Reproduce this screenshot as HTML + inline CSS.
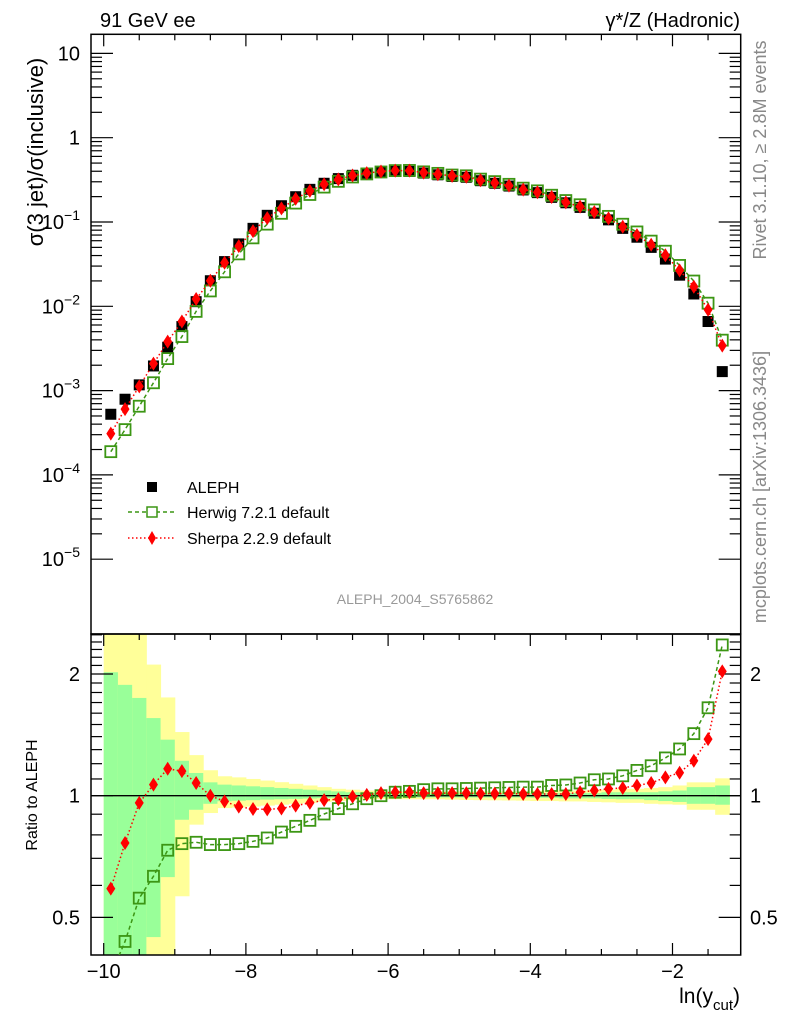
<!DOCTYPE html>
<html><head><meta charset="utf-8"><style>
html,body{margin:0;padding:0;background:#fff;}
svg{display:block;font-family:"Liberation Sans",sans-serif;}
</style></head><body>
<svg id="chart" width="786" height="1024" viewBox="0 0 786 1024" xmlns="http://www.w3.org/2000/svg">
<defs>
<clipPath id="clipMain"><rect x="91" y="34.3" width="649.7" height="599.7"/></clipPath>
<clipPath id="clipRatio"><rect x="91" y="634" width="649.7" height="321"/></clipPath>
</defs>
<g id="bands" clip-path="url(#clipRatio)"></g>
<g id="axes"></g>
<g id="marks"></g>
<text x="100" y="27" font-size="20">91 GeV ee</text>
<text x="740" y="27" font-size="20" text-anchor="end">γ*/Z (Hadronic)</text>
<text transform="translate(43,152) rotate(-90)" font-size="22" text-anchor="middle">σ(3 jet)/σ(inclusive)</text>
<text transform="translate(37,795) rotate(-90)" font-size="16" text-anchor="middle">Ratio to ALEPH</text>
<text transform="translate(766,150) rotate(-90)" font-size="18" fill="#888" text-anchor="middle">Rivet 3.1.10, ≥ 2.8M events</text>
<text transform="translate(766,487) rotate(-90)" font-size="18" fill="#888" text-anchor="middle">mcplots.cern.ch [arXiv:1306.3436]</text>
<text x="415" y="604" font-size="14" fill="#999" text-anchor="middle">ALEPH_2004_S5765862</text>
<text x="740" y="1003" font-size="21" text-anchor="end">ln(y<tspan font-size="15" dy="7">cut</tspan><tspan dy="-7">)</tspan></text>
<g>
 <rect x="147" y="482" width="10" height="10" fill="#000"/>
 <text x="187" y="493" font-size="16">ALEPH</text>
 <line x1="128" y1="512" x2="176" y2="512" stroke="#3c9614" stroke-width="1.5" stroke-dasharray="4,3"/>
 <rect x="147" y="507" width="10" height="10" fill="#fff" stroke="#3c9614" stroke-width="1.5"/>
 <text x="187" y="518" font-size="16">Herwig 7.2.1 default</text>
 <line x1="128" y1="538" x2="176" y2="538" stroke="#f00" stroke-width="1.5" stroke-dasharray="1.5,2.5"/>
 <polygon points="152,531 156,538 152,545 148,538" fill="#f00"/>
 <text x="187" y="544" font-size="16">Sherpa 2.2.9 default</text>
</g>
</svg>
<script>
const xCenters = [-9.9,-9.7,-9.5,-9.3,-9.1,-8.9,-8.7,-8.5,-8.3,-8.1,-7.9,-7.7,-7.5,-7.3,-7.1,-6.9,-6.7,-6.5,-6.3,-6.1,-5.9,-5.7,-5.5,-5.3,-5.1,-4.9,-4.7,-4.5,-4.3,-4.1,-3.9,-3.7,-3.5,-3.3,-3.1,-2.9,-2.7,-2.5,-2.3,-2.1,-1.9,-1.7,-1.5,-1.3];
const aleph = [5.24e-4,7.9e-4,1.17e-3,1.96e-3,3.27e-3,5.75e-3,0.01135,0.0201,0.0339,0.055,0.0841,0.120,0.156,0.1995,0.244,0.288,0.327,0.358,0.378,0.392,0.399,0.399,0.38,0.363,0.347,0.339,0.309,0.288,0.267,0.24,0.223,0.196,0.169,0.149,0.127,0.106,0.084,0.066,0.050,0.0363,0.0234,0.014,0.0066,0.00168];
const herwigRatio = [0.36,0.436,0.558,0.632,0.733,0.761,0.767,0.757,0.757,0.761,0.771,0.786,0.813,0.84,0.869,0.901,0.929,0.955,0.983,1.0,1.02,1.025,1.035,1.04,1.04,1.042,1.044,1.046,1.048,1.05,1.05,1.06,1.063,1.075,1.095,1.10,1.12,1.155,1.186,1.24,1.305,1.424,1.65,2.36];
const sherpaRatio = [0.589,0.764,0.96,1.065,1.166,1.15,1.075,1.0,0.968,0.94,0.927,0.925,0.93,0.945,0.96,0.975,0.98,0.995,1.005,1.015,1.02,1.02,1.015,1.015,1.015,1.015,1.012,1.012,1.012,1.01,1.01,1.01,1.01,1.02,1.03,1.04,1.045,1.06,1.075,1.11,1.14,1.22,1.38,2.03];
const greenHi = [2.02,1.88,1.745,1.556,1.376,1.22,1.138,1.079,1.065,1.06,1.055,1.05,1.045,1.04,1.035,1.03,1.025,1.02,1.018,1.015,1.012,1.012,1.012,1.012,1.012,1.012,1.012,1.012,1.012,1.012,1.015,1.015,1.015,1.015,1.015,1.02,1.02,1.02,1.02,1.025,1.03,1.05,1.05,1.06];
const greenLo = [0.3,0.3,0.3,0.447,0.629,0.872,0.923,0.955,0.969,0.972,0.975,0.978,0.98,0.982,0.984,0.986,0.988,0.99,0.99,0.99,0.99,0.99,0.99,0.99,0.99,0.99,0.99,0.99,0.99,0.99,0.988,0.988,0.985,0.985,0.985,0.982,0.98,0.98,0.975,0.97,0.965,0.955,0.955,0.95];
const yellowHi = [3,3,3,2.11,1.75,1.437,1.26,1.156,1.117,1.11,1.1,1.09,1.08,1.07,1.06,1.05,1.04,1.035,1.03,1.025,1.025,1.025,1.025,1.025,1.025,1.025,1.025,1.025,1.025,1.025,1.03,1.03,1.03,1.03,1.035,1.035,1.04,1.04,1.045,1.05,1.06,1.079,1.079,1.104];
const yellowLo = [0.3,0.3,0.3,0.3,0.3,0.564,0.848,0.906,0.932,0.935,0.94,0.945,0.95,0.955,0.96,0.965,0.97,0.975,0.978,0.98,0.98,0.98,0.98,0.98,0.978,0.976,0.975,0.974,0.973,0.972,0.97,0.97,0.968,0.968,0.965,0.963,0.96,0.96,0.955,0.952,0.95,0.923,0.923,0.897];
const xTickLabels = [-10,-8,-6,-4,-2];
const mainDecades = [-5,-4,-3,-2,-1,0,1];
const ratioLabels = [0.5,1,2];

const NS = "http://www.w3.org/2000/svg";
const L=91,R=740.7,T=34.3,MB=634,B=955;
const X = v => 103.7 + (v + 10) * 71.1;
const Ym = v => 222 - (Math.log10(v) + 1) * 84.3;
const Yr = v => 795.7 - Math.log10(v) * 404.3;
function mk(parent, tag, attrs){const e=document.createElementNS(NS,tag);for(const k in attrs)e.setAttribute(k,attrs[k]);parent.appendChild(e);return e;}
const axes=document.getElementById('axes'), bands=document.getElementById('bands'), marks=document.getElementById('marks');

xCenters.forEach((c,i)=>{
  const x0=X(c-0.1), x1=X(c+0.1);
  let r=mk(bands,'rect',{x:x0,y:Yr(yellowHi[i]),width:x1-x0+0.5,height:Yr(yellowLo[i])-Yr(yellowHi[i]),fill:'#ffff99'});
  
  
  r=mk(bands,'rect',{x:x0,y:Yr(greenHi[i]),width:x1-x0+0.5,height:Yr(greenLo[i])-Yr(greenHi[i]),fill:'#99ff99'});
  
  
});

let f=mk(axes,'rect',{x:L,y:T,width:R-L,height:MB-T,fill:'none',stroke:'#000','stroke-width':1.5});


f=mk(axes,'rect',{x:L,y:MB,width:R-L,height:B-MB,fill:'none',stroke:'#000','stroke-width':1.5});


let ref=mk(axes,'line',{x1:L,x2:R,y1:Yr(1),y2:Yr(1),stroke:'#000','stroke-width':1.3});



for(let v=-10;v<=-1.05;v+=0.5){
  const major=Math.abs(v-Math.round(v/2)*2)<1e-6;
  const len=major?12:6, x=X(v);
  [[T,T+len],[MB,MB+len],[B,B-len]].forEach(p=>mk(axes,'line',{x1:x,x2:x,y1:p[0],y2:p[1],stroke:'#000','stroke-width':1.2}));
}
xTickLabels.forEach(v=>{
  const t=mk(axes,'text',{x:X(v),y:978,'font-size':20,'text-anchor':'middle'});
  t.textContent=(v<0?'\u2212':'')+Math.abs(v);
  
  
});
mainDecades.forEach(d=>{
  for(let m=1;m<=9;m++){
    const y=Ym(m*Math.pow(10,d));
    if(y<T||y>MB)continue;
    const len=m===1?22:11;
    mk(axes,'line',{x1:L,x2:L+len,y1:y,y2:y,stroke:'#000','stroke-width':1.2});
    mk(axes,'line',{x1:R,x2:R-len,y1:y,y2:y,stroke:'#000','stroke-width':1.2});
  }
  const y=Ym(Math.pow(10,d));
  const t=mk(axes,'text',{x:80,y:y+7,'font-size':20,'text-anchor':'end'});
  if(d===0)t.textContent='1'; else if(d===1)t.textContent='10';
  else{t.textContent='10';const s=mk(t,'tspan',{dy:-9,'font-size':14});s.textContent='\u2212'+Math.abs(d);}
  
  
});
[0.5,0.6,0.7,0.8,0.9,1,1.1,1.2,1.3,1.4,1.5,1.6,1.7,1.8,1.9,2,2.1,2.2,2.3,2.4,2.5].forEach(v=>{
  const y=Yr(v), len=(v===0.5||v===1||v===2)?22:11;
  mk(axes,'line',{x1:L,x2:L+len,y1:y,y2:y,stroke:'#000','stroke-width':1.2});
  mk(axes,'line',{x1:R,x2:R-len,y1:y,y2:y,stroke:'#000','stroke-width':1.2});
});
ratioLabels.forEach(v=>{
  let t=mk(axes,'text',{x:80,y:Yr(v)+7,'font-size':20,'text-anchor':'end'});t.textContent=String(v);
  
  
  t=mk(axes,'text',{x:750,y:Yr(v)+7,'font-size':20});t.textContent=String(v);
  
  
});

const gMain=mk(marks,'g',{'clip-path':'url(#clipMain)'});
const gRat=mk(marks,'g',{'clip-path':'url(#clipRatio)'});
const herwig=aleph.map((a,i)=>a*herwigRatio[i]);
const sherpa=aleph.map((a,i)=>a*sherpaRatio[i]);
function line(g,vals,Y,color,dash,name){
  const p=mk(g,'polyline',{points:xCenters.map((c,i)=>X(c)+','+Y(vals[i])).join(' '),fill:'none',stroke:color,'stroke-width':1.5,'stroke-dasharray':dash});
  
  
}
function squares(g,vals,Y,open,name){
  vals.forEach((v,i)=>{
    const s=11;
    const r=mk(g,'rect',{x:X(xCenters[i])-s/2,y:Y(v)-s/2,width:s,height:s,fill:open?'none':'#000',stroke:open?'#3c9614':'none','stroke-width':1.8});
    
    
  });
}
function diamonds(g,vals,Y,name){
  vals.forEach((v,i)=>{
    const x=X(xCenters[i]),y=Y(v);
    const p=mk(g,'polygon',{points:`${x},${y-7} ${x+4.5},${y} ${x},${y+7} ${x-4.5},${y}`,fill:'#f00'});
    
    
  });
}
squares(gMain,aleph,Ym,false,'aleph-point');
line(gMain,herwig,Ym,'#3c9614','4,3','herwig-line');
squares(gMain,herwig,Ym,true,'herwig-point');
line(gMain,sherpa,Ym,'#f00','1.5,2.5','sherpa-line');
diamonds(gMain,sherpa,Ym,'sherpa-point');
line(gRat,herwigRatio,Yr,'#3c9614','4,3','herwig-ratio-line');
squares(gRat,herwigRatio,Yr,true,'herwig-ratio-point');
line(gRat,sherpaRatio,Yr,'#f00','1.5,2.5','sherpa-ratio-line');
diamonds(gRat,sherpaRatio,Yr,'sherpa-ratio-point');
</script>
</body></html>
